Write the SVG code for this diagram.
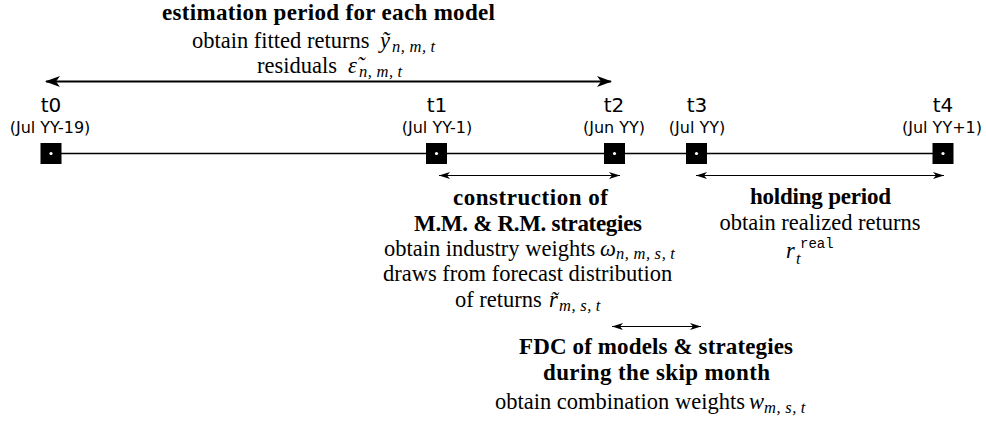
<svg xmlns="http://www.w3.org/2000/svg" width="986" height="424" viewBox="0 0 986 424">
<defs>
<marker id="bigHead" markerUnits="userSpaceOnUse" markerWidth="16" markerHeight="12" refX="14" refY="6" orient="auto-start-reverse" viewBox="0 0 16 12">
<path d="M0,0.5 L15,6 L0,11.5 L4,6 Z" fill="#000"/>
</marker>
<marker id="smallHead" markerUnits="userSpaceOnUse" markerWidth="12" markerHeight="8" refX="11" refY="4" orient="auto-start-reverse" viewBox="0 0 12 8">
<path d="M0,0.5 L11,4 L0,7.5 L3,4 Z" fill="#000"/>
</marker>
</defs>
<style>
.lbl{font-family:"DejaVu Sans",sans-serif;fill:#000;text-anchor:middle}
.t{font-size:20px}
.d{font-size:16px}
.sf{font-family:"Liberation Serif","Times New Roman",serif;fill:#000;font-size:22.5px}
.b{font-weight:bold;font-size:23px}
.c{text-anchor:middle}
.m{font-style:italic}
.sub{font-style:italic;font-size:16.5px;letter-spacing:0.6px}
.mono{font-family:"Liberation Mono","DejaVu Sans Mono",monospace;font-size:14px}
.node rect{fill:#000}
.node circle{fill:#fff}
.conn line{stroke:#000}
</style>
<rect width="986" height="424" fill="#fff"/>
<g id="connectors" class="conn">
<line x1="51" y1="153.5" x2="943" y2="153.5" stroke-width="1.5"/>
<line x1="46" y1="81.5" x2="611" y2="81.5" stroke-width="2" marker-start="url(#bigHead)" marker-end="url(#bigHead)"/>
<line x1="439" y1="175.5" x2="620" y2="175.5" stroke-width="1.2" marker-start="url(#smallHead)" marker-end="url(#smallHead)"/>
<line x1="696" y1="175.5" x2="944" y2="175.5" stroke-width="1.2" marker-start="url(#smallHead)" marker-end="url(#smallHead)"/>
<line x1="612" y1="326.5" x2="701" y2="326.5" stroke-width="1" marker-start="url(#smallHead)" marker-end="url(#smallHead)"/>
</g>
<g id="t0" class="node">
<rect x="40.5" y="143" width="21" height="21"/><circle cx="51" cy="153.5" r="1.6"/>
<text class="lbl t" x="51" y="112">t0</text>
<text class="lbl d" x="50" y="133">(Jul YY-19)</text>
</g>
<g id="t1" class="node">
<rect x="426" y="143" width="21" height="21"/><circle cx="436.5" cy="153.5" r="1.6"/>
<text class="lbl t" x="437" y="112">t1</text>
<text class="lbl d" x="437" y="133">(Jul YY-1)</text>
</g>
<g id="t2" class="node">
<rect x="604" y="143" width="21" height="21"/><circle cx="614.5" cy="153.5" r="1.6"/>
<text class="lbl t" x="614" y="112">t2</text>
<text class="lbl d" x="614" y="133">(Jun YY)</text>
</g>
<g id="t3" class="node">
<rect x="686" y="143" width="21" height="21"/><circle cx="696.5" cy="153.5" r="1.6"/>
<text class="lbl t" x="697" y="112">t3</text>
<text class="lbl d" x="697" y="133">(Jul YY)</text>
</g>
<g id="t4" class="node">
<rect x="932.5" y="143" width="21" height="21"/><circle cx="943" cy="153.5" r="1.6"/>
<text class="lbl t" x="943" y="112">t4</text>
<text class="lbl d" x="942" y="133">(Jul YY+1)</text>
</g>
<g id="estimation">
<text class="sf b" x="162" y="20" textLength="333">estimation period for each model</text>
<text class="sf" x="192" y="48">obtain fitted returns</text>
<text class="sf m" x="380" y="48">ỹ</text>
<text class="sf sub" x="392" y="52">n,&#8201;m,&#8201;t</text>
<text class="sf" x="257" y="73">residuals</text>
<text class="sf m" x="348" y="73">ε̃</text>
<text class="sf sub" x="359" y="77">n,&#8201;m,&#8201;t</text>
</g>
<g id="construction">
<text class="sf b" x="453" y="205" textLength="155">construction of</text>
<text class="sf b" x="414" y="231" textLength="228">M.M. &amp; R.M. strategies</text>
<text class="sf" x="384" y="256">obtain industry weights</text>
<text class="sf m" x="600" y="256">ω</text>
<text class="sf sub" x="616" y="259">n,&#8201;m,&#8201;s,&#8201;t</text>
<text class="sf" x="383" y="281">draws from forecast distribution</text>
<text class="sf" x="455" y="307">of returns</text>
<text class="sf m" x="549" y="307">r̃</text>
<text class="sf sub" x="559" y="311">m,&#8201;s,&#8201;t</text>
</g>
<g id="holding">
<text class="sf b" x="750" y="204" textLength="141">holding period</text>
<text class="sf c" x="820" y="230">obtain realized returns</text>
<text class="sf m" x="786" y="258">r</text>
<text class="sf sub" x="796" y="264">t</text>
<text class="mono" x="800" y="248">real</text>
</g>
<g id="fdc">
<text class="sf b" x="519" y="354" textLength="274">FDC of models &amp; strategies</text>
<text class="sf b" x="543" y="380" textLength="227">during the skip month</text>
<text class="sf" x="495" y="409">obtain combination weights</text>
<text class="sf m" x="749" y="409">w</text>
<text class="sf sub" x="764" y="413">m,&#8201;s,&#8201;t</text>
</g>
</svg>
